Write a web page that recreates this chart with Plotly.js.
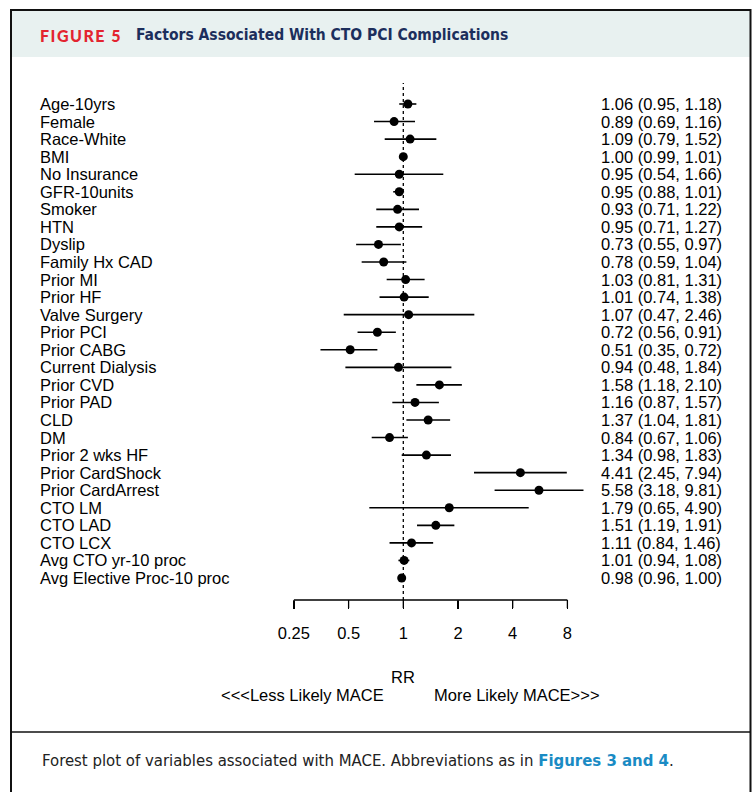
<!DOCTYPE html>
<html>
<head>
<meta charset="utf-8">
<script src="https://cdn.plot.ly/plotly-3.0.1.min.js"></script>
<style>
html,body{margin:0;padding:0;background:#fff;}
#chart{width:756px;height:792px;}
</style>
</head>
<body>
<div id="chart"></div>
<script>
var labels = ["Age-10yrs","Female","Race-White","BMI","No Insurance","GFR-10units","Smoker","HTN","Dyslip","Family Hx CAD","Prior MI","Prior HF","Valve Surgery","Prior PCI","Prior CABG","Current Dialysis","Prior CVD","Prior PAD","CLD","DM","Prior 2 wks HF","Prior CardShock","Prior CardArrest","CTO LM","CTO LAD","CTO LCX","Avg CTO yr-10 proc","Avg Elective Proc-10 proc"];
var rr    = [1.06,0.89,1.09,1.00,0.95,0.95,0.93,0.95,0.73,0.78,1.03,1.01,1.07,0.72,0.51,0.94,1.58,1.16,1.37,0.84,1.34,4.41,5.58,1.79,1.51,1.11,1.01,0.98];
var lower = [0.95,0.69,0.79,0.99,0.54,0.88,0.71,0.71,0.55,0.59,0.81,0.74,0.47,0.56,0.35,0.48,1.18,0.87,1.04,0.67,0.98,2.45,3.18,0.65,1.19,0.84,0.94,0.96];
var upper = [1.18,1.16,1.52,1.01,1.66,1.01,1.22,1.27,0.97,1.04,1.31,1.38,2.46,0.91,0.72,1.84,2.10,1.57,1.81,1.06,1.83,7.94,9.81,4.90,1.91,1.46,1.08,1.00];
var tickVals = [0.25,0.5,1,2,4,8];
var tickText = ["0.25","0.5","1","2","4","8"];

var W = 756, H = 792;
function px(x){ return x / W; }
function py(y){ return 1 - y / H; }

var rows = labels.map(function(_, i){ return i; });
var plus = rr.map(function(v, i){ return upper[i] - v; });
var minus = rr.map(function(v, i){ return v - lower[i]; });
function f2(v){ return v.toFixed(2); }
var ciText = rr.map(function(v, i){ return f2(v) + " (" + f2(lower[i]) + ", " + f2(upper[i]) + ")"; });

var k = 181.7, x0 = 403.3;
var Lpx = 288, Rpx = 620;
var xr = [(Lpx - x0) / k, (Rpx - x0) / k];
var rowTop = 104, rowStep = (578 - 104) / 27;
var yTopPx = 85, yBotPx = 600;
var yr = [(yBotPx - rowTop) / rowStep, (yTopPx - rowTop) / rowStep];

var font = "Liberation Sans, Arial, Helvetica, sans-serif";
var condensed = "DejaVu Sans Condensed, sans-serif";
var fs = 16.5;

var trace = {
  type: "scatter",
  mode: "markers",
  x: rr,
  y: rows,
  marker: {color: "#000", size: 9, symbol: "circle"},
  error_x: {type: "data", symmetric: false, array: plus, arrayminus: minus, color: "#000", thickness: 1.6, width: 0},
  hoverinfo: "skip",
  showlegend: false
};

var annotations = [];
labels.forEach(function(l, i){
  annotations.push({text: l, x: px(38), xref: "paper", xanchor: "left", y: i, yref: "y", yanchor: "middle", showarrow: false, font: {family: font, size: fs, color: "#000"}});
  annotations.push({text: ciText[i], x: px(599), xref: "paper", xanchor: "left", y: i, yref: "y", yanchor: "middle", showarrow: false, font: {family: font, size: fs, color: "#000"}});
});
annotations.push({text: "RR", x: px(403), xref: "paper", y: py(677), yref: "paper", xanchor: "center", yanchor: "middle", showarrow: false, font: {family: font, size: fs, color: "#000"}});
annotations.push({text: "<<<Less Likely MACE", x: px(302), xref: "paper", y: py(695), yref: "paper", xanchor: "center", yanchor: "middle", showarrow: false, font: {family: font, size: fs, color: "#000"}});
annotations.push({text: "More Likely MACE>>>", x: px(517), xref: "paper", y: py(695), yref: "paper", xanchor: "center", yanchor: "middle", showarrow: false, font: {family: font, size: fs, color: "#000"}});
annotations.push({text: "FIGURE 5", x: px(43.5), xref: "paper", y: py(35), yref: "paper", xanchor: "left", yanchor: "middle", showarrow: false, font: {family: "Lato, sans-serif", size: 16, weight: 900, color: "#e3242f"}});
annotations.push({text: "<b>Factors Associated With CTO PCI Complications</b>", x: px(134), xref: "paper", y: py(35), yref: "paper", xanchor: "left", yanchor: "middle", showarrow: false, font: {family: condensed, size: 15.5, color: "#1c2e5c"}});
annotations.push({text: "Forest plot of variables associated with MACE. Abbreviations as in <b><span style='color:#1a8bc4'>Figures 3 and 4</span></b>.", x: px(40), xref: "paper", y: py(760), yref: "paper", xanchor: "left", yanchor: "middle", showarrow: false, font: {family: condensed, size: 16.6, color: "#222"}});

var shapes = [
  {type: "rect", xref: "paper", yref: "paper", x0: px(11), x1: px(750), y0: py(57), y1: py(11), fillcolor: "#e8f1f0", line: {width: 0}, layer: "below"},
  {type: "rect", xref: "paper", yref: "paper", x0: px(11), x1: px(750.5), y0: py(805), y1: py(10), fillcolor: "rgba(0,0,0,0)", line: {color: "#111", width: 2}},
  {type: "line", xref: "paper", yref: "paper", x0: px(11), x1: px(750.5), y0: py(732), y1: py(732), line: {color: "#111", width: 1.5}},
  {type: "line", xref: "x", yref: "paper", x0: 1, x1: 1, y0: py(600), y1: py(83), line: {color: "#000", width: 1.3, dash: "dot"}},
  {type: "line", xref: "x", yref: "paper", x0: 0.25, x1: 8, y0: py(600), y1: py(600), line: {color: "#000", width: 1.3}}
];
tickVals.forEach(function(t){
  shapes.push({type: "line", xref: "x", yref: "paper", x0: t, x1: t, y0: py(600), y1: py(608), line: {color: "#000", width: 1.3}});
});

var layout = {
  width: W, height: H,
  margin: {l: 0, r: 0, t: 0, b: 0},
  paper_bgcolor: "#fff", plot_bgcolor: "rgba(0,0,0,0)",
  showlegend: false,
  xaxis: {
    type: "log", range: xr, domain: [px(Lpx), px(Rpx)],
    showgrid: false, zeroline: false, showline: false,
    tickmode: "array", tickvals: tickVals, ticktext: tickText,
    ticks: "outside", ticklen: 8, tickwidth: 1.3, tickcolor: "#000",
    ticklabelstandoff: 10,
    tickfont: {family: font, size: fs, color: "#000"},
    fixedrange: true
  },
  yaxis: {
    range: yr, domain: [py(yBotPx), py(yTopPx)],
    visible: false, fixedrange: true
  },
  shapes: shapes,
  annotations: annotations
};

Plotly.newPlot("chart", [trace], layout, {displayModeBar: false, staticPlot: true}).then(function(){
  document.querySelectorAll("text.annotation-text").forEach(function(t){
    if (t.textContent === "FIGURE 5") { t.style.letterSpacing = "1.5px"; }
  });
});
</script>
</body>
</html>
